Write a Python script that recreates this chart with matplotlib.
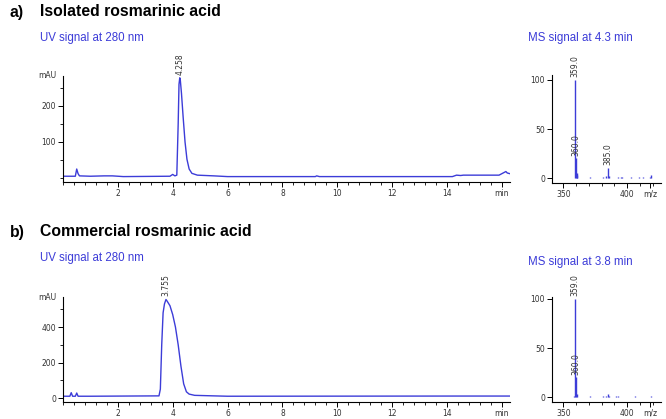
import matplotlib.pyplot as plt
import numpy as np
from matplotlib.ticker import MultipleLocator

# chromatogram a) isolated rosmarinic acid (min, mAU)
uv_a_t = [0.0, 0.45, 0.5, 0.55, 0.6, 1.0, 1.5, 1.8, 2.2, 3.9, 4.0, 4.08, 4.15, 4.2, 4.23,
          4.258, 4.28, 4.32, 4.38, 4.45, 4.52, 4.6, 4.7, 4.9, 5.5, 6.0, 9.2, 9.25, 9.35,
          14.2, 14.35, 14.5, 14.6, 15.2, 15.9, 16.0, 16.15, 16.2, 16.3]
uv_a_y = [5, 5, 25, 12, 6, 5, 6, 6, 4, 5, 10, 6, 8, 150, 260,
          278, 270, 235, 170, 100, 52, 25, 13, 8, 6, 4, 4, 6, 4,
          4, 8, 7, 8, 8, 8, 12, 18, 14, 12]

# chromatogram b) commercial rosmarinic acid
uv_b_t = [0.0, 0.25, 0.3, 0.35, 0.45, 0.5, 0.55, 1.0, 3.5, 3.55, 3.6, 3.65, 3.7, 3.755,
          3.8, 3.9, 4.0, 4.1, 4.2, 4.3, 4.4, 4.5, 4.6, 4.8, 5.5, 6.0, 14.4, 16.3]
uv_b_y = [10, 10, 30, 10, 10, 28, 10, 10, 12, 50, 300, 480, 530, 555,
          545, 520, 470, 400, 300, 180, 80, 35, 22, 15, 12, 10, 11, 11]

# mass spectra (m/z, relative abundance)
ms_a_mz = [341, 359, 360, 360.5, 361, 371, 381, 383, 385, 386, 393, 395, 396, 403, 409, 412, 418, 419]
ms_a_int = [0.5, 100, 20, 5, 3, 1, 1.5, 2, 10, 2, 1.5, 1, 1, 1, 1, 1, 1, 3]
ms_b_mz = [358, 359, 360, 361, 371, 381, 383, 385, 386, 391, 393, 399, 406, 419]
ms_b_int = [1, 100, 20, 3, 1, 1, 1, 3, 1, 1, 1, 0.5, 1, 1]

blue = '#3c3cd8'
txt = '#333333'

fig = plt.figure(figsize=(6.66, 4.19), dpi=100)
H = 419.0
W = 666.0


def box(l, r, top, bot):
    return [l / W, 1 - bot / H, (r - l) / W, (bot - top) / H]


def style(ax):
    for s in ['top', 'right']:
        ax.spines[s].set_visible(False)
    for s in ['left', 'bottom']:
        ax.spines[s].set_linewidth(0.8)
    ax.tick_params(which='major', length=3.5, width=0.7, labelsize=5.5, colors='black', labelcolor=txt, pad=1.5)
    ax.tick_params(which='minor', length=2, width=0.6)


def uv_panel(rect, t, y, ylim, ymaj, ymin, ylabels, peak_t, peak_y, peak_lbl):
    ax = fig.add_axes(rect)
    ax.plot(t, y, color=blue, lw=1.0)
    ax.set_xlim(0, 16.3)
    ax.set_ylim(*ylim)
    style(ax)
    ax.xaxis.set_minor_locator(MultipleLocator(0.4))
    ax.set_xticks([2, 4, 6, 8, 10, 12, 14, 16])
    ax.set_xticklabels(['2', '4', '6', '8', '10', '12', '14', 'min'])
    ax.set_yticks(ymaj)
    ax.set_yticklabels(ylabels)
    ax.yaxis.set_minor_locator(MultipleLocator(ymin))
    ax.text(-0.015, 1.0, 'mAU', transform=ax.transAxes, ha='right', va='center', fontsize=5.5, color=txt)
    ax.text(peak_t, peak_y + (ylim[1] - ylim[0]) * 0.03, peak_lbl, rotation=90, ha='center', va='bottom',
            fontsize=5.5, color=txt, clip_on=False)
    return ax


def ms_panel(rect, mz, inten, ylim, labels):
    ax = fig.add_axes(rect)
    ax.vlines(mz, 0, inten, color=blue, lw=1.0)
    ax.set_xlim(341, 426.5)
    ax.set_ylim(*ylim)
    style(ax)
    ax.set_xticks([350, 400, 418])
    ax.set_xticklabels(['350', '400', 'm/z'])
    ax.xaxis.set_minor_locator(MultipleLocator(10))
    ax.set_yticks([0, 50, 100])
    for m, v, s in labels:
        ax.text(m, v + 3, s, rotation=90, ha='center', va='bottom', fontsize=5.5, color=txt, clip_on=False)
    return ax


# a)
fig.text(10 / W, 1 - 12 / H, 'a)', fontsize=11.3, fontweight='bold', va='center', family='Liberation Sans')
fig.text(40 / W, 1 - 12 / H, 'Isolated rosmarinic acid', fontsize=11.3, fontweight='bold', va='center',
         family='Liberation Sans')
fig.text(40 / W, 1 - 38 / H, 'UV signal at 280 nm', fontsize=8.3, color=blue, va='center', family='Liberation Sans')
fig.text(528 / W, 1 - 38 / H, 'MS signal at 4.3 min', fontsize=8.3, color=blue, va='center',
         family='Liberation Sans')
uv_panel(box(63, 510, 76, 182), uv_a_t, uv_a_y, (-11, 283), [100, 200], 50, ['100', '200'], 4.258, 278, '4.258')
ms_panel(box(552, 661, 75, 183), ms_a_mz, ms_a_int, (-5, 105),
         [(359, 100, '359.0'), (360, 20, '360.0'), (385, 10, '385.0')])

# b)
fig.text(10 / W, 1 - 232 / H, 'b)', fontsize=11.3, fontweight='bold', va='center', family='Liberation Sans')
fig.text(40 / W, 1 - 232 / H, 'Commercial rosmarinic acid', fontsize=11.3, fontweight='bold', va='center',
         family='Liberation Sans')
fig.text(40 / W, 1 - 258 / H, 'UV signal at 280 nm', fontsize=8.3, color=blue, va='center', family='Liberation Sans')
fig.text(528 / W, 1 - 262 / H, 'MS signal at 3.8 min', fontsize=8.3, color=blue, va='center',
         family='Liberation Sans')
uv_panel(box(63, 510, 297, 402), uv_b_t, uv_b_y, (-22.5, 569), [0, 200, 400], 100, ['0', '200', '400'],
         3.755, 555, '3.755')
ms_panel(box(552, 661, 297, 402), ms_b_mz, ms_b_int, (-5, 102),
         [(359, 100, '359.0'), (360, 20, '360.0')])

fig.savefig('out.png', dpi=100)
